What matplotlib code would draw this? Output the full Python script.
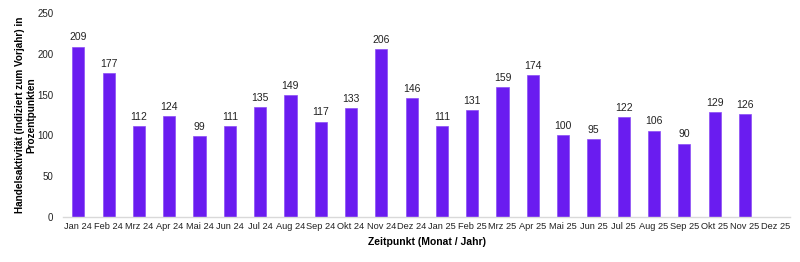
import matplotlib
matplotlib.use('Agg')
from matplotlib import pyplot as plt

# Monthly trading activity, indexed to previous year
months = ["Jan 24", "Feb 24", "Mrz 24", "Apr 24", "Mai 24", "Jun 24", "Jul 24", "Aug 24",
          "Sep 24", "Okt 24", "Nov 24", "Dez 24", "Jan 25", "Feb 25", "Mrz 25", "Apr 25",
          "Mai 25", "Jun 25", "Jul 25", "Aug 25", "Sep 25", "Okt 25", "Nov 25", "Dez 25"]
values = [209, 177, 112, 124, 99, 111, 135, 149, 117, 133, 206, 146,
          111, 131, 159, 174, 100, 95, 122, 106, 90, 129, 126, None]
yticks = [0, 50, 100, 150, 200, 250]

plt.rcParams['font.family'] = ['Liberation Sans', 'DejaVu Sans']

fig = plt.figure(figsize=(8, 2.62), dpi=100)
ax = fig.add_axes([0.079, 0.172, 0.909, 0.778])

xs = list(range(len(months)))
heights = [v if v is not None else 0 for v in values]
ax.bar(xs, heights, width=0.4, color="#6A1CF0", edgecolor="#8B4DF5", linewidth=0.5)

# value labels above bars
for x, v in zip(xs, values):
    if v is not None:
        ax.text(x, v + 5, str(v), ha="center", va="bottom", fontsize=7.5, color="#222222")

ax.set_xlim(-0.5, len(months) - 0.5)
ax.set_ylim(0, 250)
ax.set_yticks(yticks)
ax.set_xticks(xs)
ax.set_xticklabels(months)
ax.tick_params(axis="both", length=0, labelsize=6.7, colors="#222222")
ax.tick_params(axis="y", pad=7, labelsize=7)
ax.tick_params(axis="x", pad=4)

for side in ["top", "right", "left"]:
    ax.spines[side].set_visible(False)
ax.spines["bottom"].set_color("#D9D9D9")
ax.spines["bottom"].set_linewidth(1)

ax.set_ylabel("Handelsaktivität (indiziert zum Vorjahr) in\nProzentpunkten",
              fontsize=7.2, fontweight="bold", linespacing=1.1)
ax.yaxis.set_label_coords(-0.037, 0.5)
ax.set_xlabel("Zeitpunkt (Monat / Jahr)", fontsize=7.5, fontweight="bold", labelpad=4)

fig.savefig("out.png", dpi=100)
